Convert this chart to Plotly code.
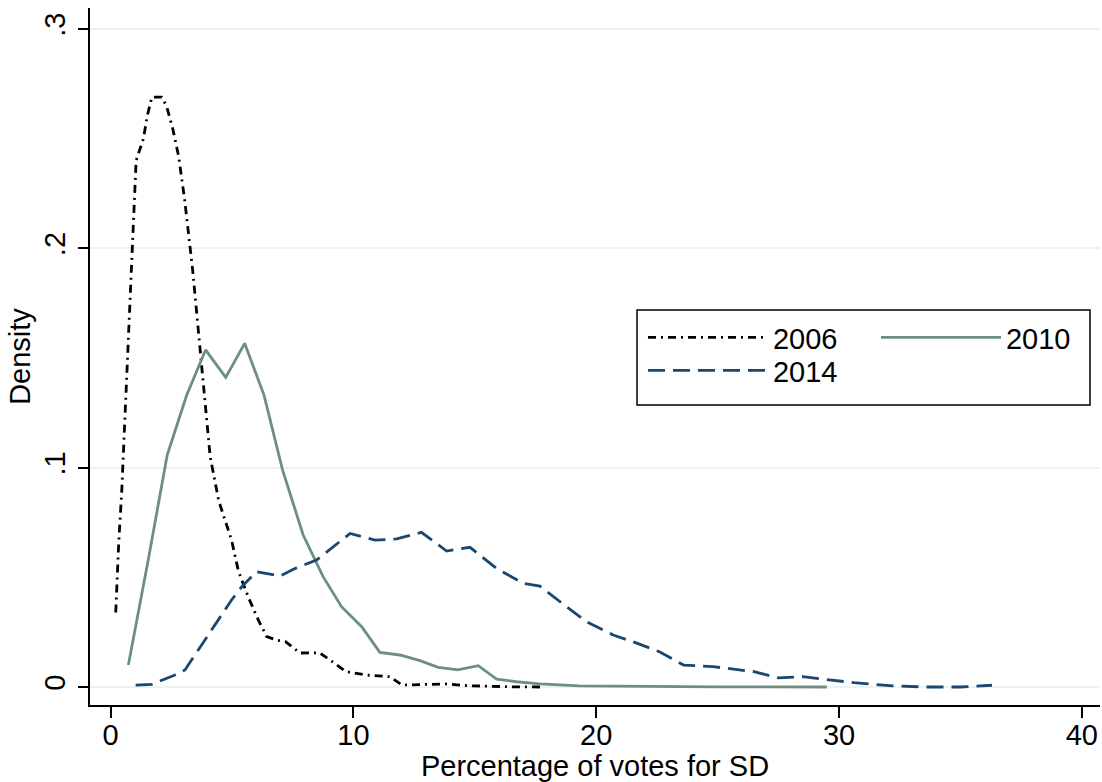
import plotly.graph_objects as go

# ---- data ----
x2006 = [0.21, 0.33, 0.46, 0.65, 0.87, 1.05, 1.35, 1.5, 1.7, 2.1, 2.3, 2.55, 2.8, 3.05, 3.38, 3.68,
         4.1, 4.45, 4.98, 5.26, 5.67, 6.08, 6.43, 6.84, 7.2, 7.8, 8.6, 9.2, 9.7, 10.5, 11.5, 12.0,
         12.9, 13.8, 14.7, 15.6, 16.5, 17.7]
y2006 = [0.034, 0.065, 0.09, 0.14, 0.19, 0.24, 0.25, 0.26, 0.269, 0.269, 0.265, 0.255, 0.242, 0.222,
         0.19, 0.154, 0.105, 0.085, 0.067, 0.053, 0.041, 0.0306, 0.023, 0.0214, 0.0207, 0.0155, 0.0156,
         0.011, 0.007, 0.0055, 0.0047, 0.0009, 0.001, 0.0014, 0.0006, 0.0003, 0.0001, 0.0]

x2010 = [0.73, 1.55, 2.33, 3.13, 3.91, 4.74, 5.52, 6.32, 7.08, 7.93, 8.75, 9.51, 10.34, 11.09, 11.91,
         12.74, 13.49, 14.3, 15.14, 15.9, 16.72, 17.68, 19.3, 21.0, 23.0, 25.0, 27.0, 29.5]
y2010 = [0.010, 0.058, 0.1058, 0.133, 0.1537, 0.1412, 0.1567, 0.133, 0.099, 0.0693, 0.0503, 0.0366,
         0.0275, 0.0158, 0.0146, 0.012, 0.009, 0.0078, 0.0097, 0.0036, 0.0024, 0.0014, 0.0005, 0.0003,
         0.0002, 0.0001, 0.0001, 0.0]

x2014 = [1.03, 1.69, 2.65, 3.06, 3.61, 4.09, 4.5, 4.98, 5.4, 6.01, 6.97, 7.59, 8.48, 9.86, 10.89, 11.78,
         12.8, 13.84, 14.8, 15.9, 17.0, 17.68, 18.78, 19.6, 20.7, 21.5, 22.6, 23.6, 24.8, 26.5, 27.5,
         28.5, 30.6, 32.2, 33.6, 35.0, 36.3]
y2014 = [0.0009, 0.0012, 0.0055, 0.0078, 0.0169, 0.025, 0.032, 0.0397, 0.0457, 0.0526, 0.0506, 0.054,
         0.0579, 0.070, 0.067, 0.0675, 0.0705, 0.062, 0.0637, 0.054, 0.0473, 0.046, 0.0366, 0.0298,
         0.0237, 0.0207, 0.0161, 0.010, 0.0093, 0.007, 0.0042, 0.0047, 0.002, 0.0005, 0.0, 0.0, 0.0008]

series_names = ["2006", "2010", "2014"]
x_ticks = [0, 10, 20, 30, 40]
x_tick_labels = ["0", "10", "20", "30", "40"]
y_ticks = [0, 0.1, 0.2, 0.3]
y_tick_labels = ["0", ".1", ".2", ".3"]

FONT = "Liberation Sans, Arial, sans-serif"
FS = 29
BLACK = "#000000"
GREEN = "#6c8f82"
NAVY = "#1a476f"

fig = go.Figure()
fig.add_trace(go.Scatter(x=x2006, y=y2006, mode="lines", name=series_names[0], legend="legend",
                         line=dict(color=BLACK, width=2.8, dash="8px,5px,2px,5px")))
fig.add_trace(go.Scatter(x=x2010, y=y2010, mode="lines", name=series_names[1], legend="legend",
                         line=dict(color=GREEN, width=2.8)))
fig.add_trace(go.Scatter(x=x2014, y=y2014, mode="lines", name=series_names[2], legend="legend2",
                         line=dict(color=NAVY, width=2.8, dash="17px,8px")))

legend_common = dict(
    orientation="h",
    x=0.5475, xanchor="left",
    yanchor="top",
    borderwidth=0,
    bgcolor="rgba(255,255,255,0)",
    font=dict(family=FONT, size=FS, color="black"),
    itemwidth=120,
    entrywidth=98,
    traceorder="normal",
)

fig.update_layout(
    width=1102, height=782,
    margin=dict(l=90, r=2, t=8, b=77, autoexpand=False),
    paper_bgcolor="white", plot_bgcolor="white",
    font=dict(family=FONT, size=FS, color="black"),
    showlegend=True,
    legend=dict(legend_common, y=0.5639),
    legend2=dict(legend_common, y=0.5165),
    shapes=[dict(type="rect", xref="paper", yref="paper",
                 x0=0.5416, x1=0.9901, y0=0.4304, y1=0.5667,
                 line=dict(color="black", width=1.5), fillcolor="white", layer="above")],
)

fig.update_xaxes(
    range=[-0.85, 40.75],
    tickmode="array", tickvals=x_ticks, ticktext=x_tick_labels,
    ticks="outside", ticklen=11, tickwidth=1.5, tickcolor="black",
    ticklabelstandoff=-8,
    showline=True, linecolor="black", linewidth=1.5,
    showgrid=False, zeroline=False,
    tickfont=dict(family=FONT, size=FS, color="black"),
    title=dict(text="Percentage of votes for SD", font=dict(family=FONT, size=FS, color="black"),
               standoff=2),
    automargin=False,
)
fig.update_yaxes(
    range=[-0.0082, 0.3096],
    tickmode="array", tickvals=y_ticks, ticktext=y_tick_labels,
    tickangle=-90,
    ticks="outside", ticklen=10, tickwidth=1.5, tickcolor="black",
    ticklabelstandoff=2,
    showline=True, linecolor="black", linewidth=1.5,
    showgrid=True, gridcolor="#eaf2f3", gridwidth=1.5,
    zeroline=False,
    tickfont=dict(family=FONT, size=FS, color="black"),
    title=dict(text="Density", font=dict(family=FONT, size=FS, color="black"), standoff=0),
    automargin=False,
)

fig.write_html("out.html",
               config={"displayModeBar": False},
               post_script="document.body.style.margin='0';document.body.style.overflow='hidden';")
